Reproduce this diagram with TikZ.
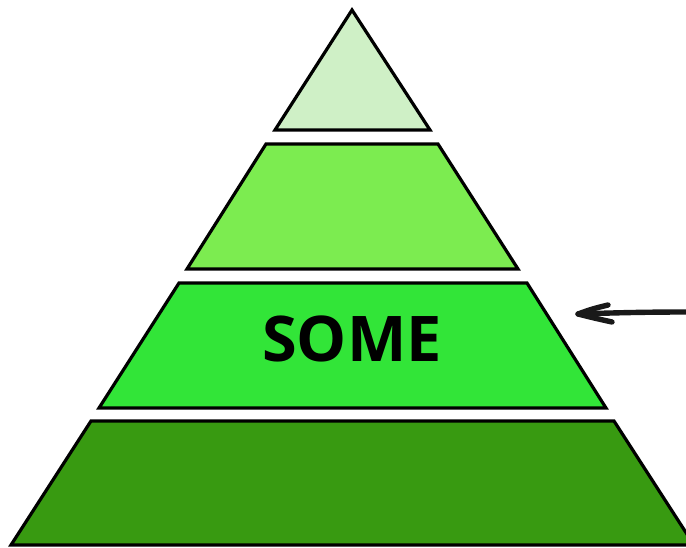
\documentclass[tikz,border=0pt]{standalone}
\usepackage{fontspec}
\setmainfont{Open Sans}
\definecolor{lvlA}{RGB}{207,240,198}
\definecolor{lvlB}{RGB}{124,236,80}
\definecolor{lvlC}{RGB}{50,229,56}
\definecolor{lvlD}{RGB}{56,154,17}
\begin{document}
\begin{tikzpicture}[x=1pt,y=-1pt,
  layer/.style={draw=black,line width=3.2pt,line join=miter},
  pointer/.style={draw=black!90,line width=5.4pt,line cap=round,line join=round}]
\useasboundingbox (0,0) rectangle (686,548);
% pyramid layers
\draw[layer,fill=lvlA] (352,10) -- (430,130) -- (275,130) -- cycle;
\draw[layer,fill=lvlB] (266,144) -- (438,144) -- (518,269) -- (187,269) -- cycle;
\draw[layer,fill=lvlC] (179,283) -- (527,283) -- (606,408) -- (99,408) -- cycle;
\draw[layer,fill=lvlD] (91,421) -- (614,421) -- (694,545) -- (11,545) -- cycle;
\node[font=\fontsize{63}{63}\selectfont\bfseries] (label) at (352,339) {SOME};
% arrow
\coordinate (tail) at (688,312);
\coordinate (tip) at (578,314);
\coordinate (armU) at (608,305);
\coordinate (armL) at (612,322);
\draw[pointer] (tail) .. controls (640,312) and (610,313) .. (tip);
\draw[pointer] (armU) .. controls (592,309) .. (tip) .. controls (594,318) .. (armL);
\end{tikzpicture}
\end{document}
